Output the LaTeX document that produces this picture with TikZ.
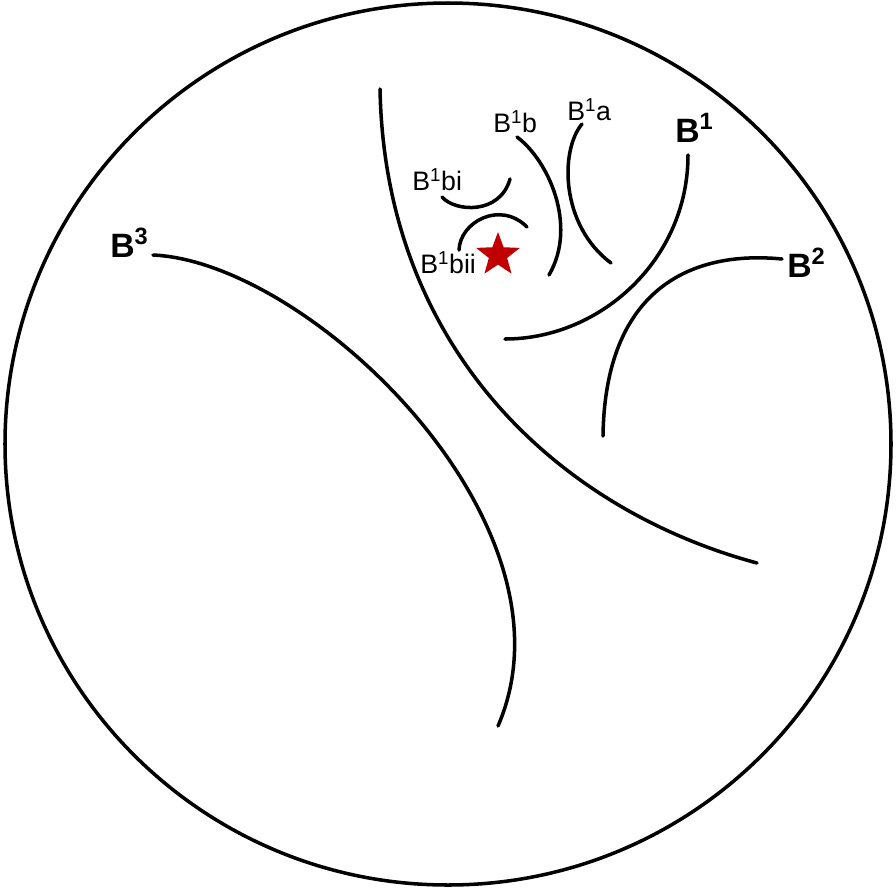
\documentclass[tikz,border=0pt]{standalone}
\usepackage{fontspec}
\setmainfont{Liberation Sans}
\usetikzlibrary{shapes.geometric}
\definecolor{starred}{RGB}{192,0,0}

\begin{document}
\begin{tikzpicture}[
      x=0.025cm, y=-0.025cm,
      arc/.style={line width=2.5pt, line cap=round},
      biglabel/.style={anchor=base west, inner sep=0pt, font=\fontsize{24}{28}\selectfont\bfseries},
      smalllabel/.style={anchor=base west, inner sep=0pt, font=\fontsize{19}{22}\selectfont},
      pinstar/.style={star, star points=5, star point ratio=2.4, fill=starred, draw=none, minimum size=1.15cm, inner sep=0pt}
  ]
    \useasboundingbox (0,0) rectangle (896,890);

    % outer disc
    \draw[arc] (448,444) ellipse [x radius=443, y radius=441];

    % main branches
    \draw[arc] (380,89) .. controls (385,350) and (560,510) .. (757,563);
    \draw[arc] (153,255) .. controls (310,262) and (585,525) .. (498,726);
    \draw[arc] (688,155) .. controls (688,260) and (600,339) .. (505,339);
    \draw[arc] (782,259) .. controls (690,250) and (605,290) .. (603,436);

    % sub-branches of B1
    \draw[arc] (517,137) .. controls (548,160) and (578,225) .. (549,275);
    \draw[arc] (582,124) .. controls (560,150) and (560,225) .. (611,263);
    \draw[arc] (442,197) .. controls (455,212) and (500,215) .. (510,179);
    \draw[arc] (459,250) .. controls (460,222) and (500,200) .. (527,227);

    \node[pinstar] (target) at (498,255) {};

    \node[biglabel] (lb1) at (675,142) {B\textsuperscript{1}};
    \node[biglabel] (lb2) at (787,277) {B\textsuperscript{2}};
    \node[biglabel] (lb3) at (110,257) {B\textsuperscript{3}};
    \node[smalllabel] (lb1a) at (567,120) {B\textsuperscript{1}a};
    \node[smalllabel] (lb1b) at (493,132) {B\textsuperscript{1}b};
    \node[smalllabel] (lb1bi) at (412,190) {B\textsuperscript{1}bi};
    \node[smalllabel] (lb1bii) at (420,273) {B\textsuperscript{1}bii};
  \end{tikzpicture}
\end{document}
